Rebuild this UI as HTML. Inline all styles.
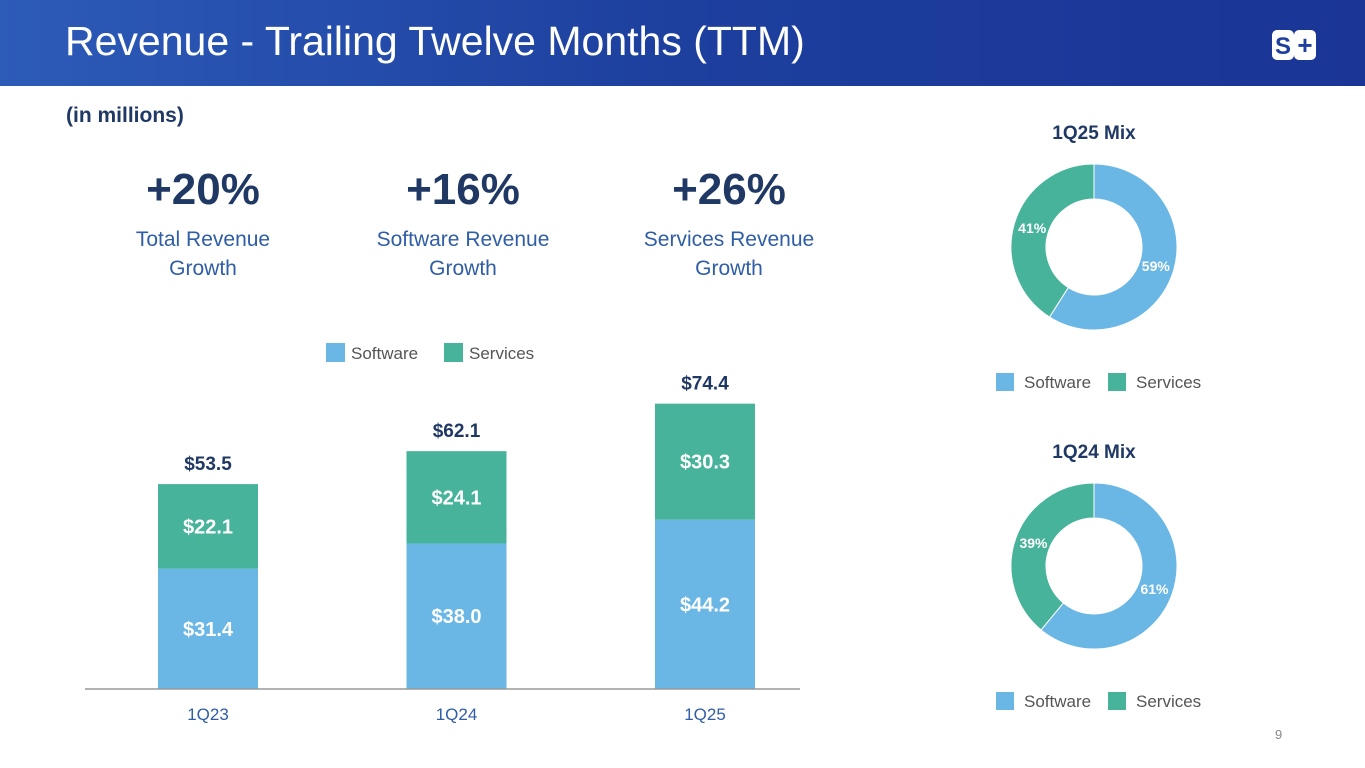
<!DOCTYPE html>
<html><head><meta charset="utf-8"><style>
body{margin:0;width:1365px;height:768px;overflow:hidden;background:#fff;font-family:"Liberation Sans",sans-serif;position:relative}
.abs{position:absolute}
#hdr{left:0;top:0;width:1365px;height:86px;background:linear-gradient(90deg,#2d5bb8,#1d3f9e 50%,#1a3596)}
#title{left:65px;top:18px;font-size:41px;color:#fff}
.kpi{width:260px;text-align:center;color:#1f3864}
.kpi b{display:block;font-size:44px}
.kpi span{display:block;font-size:21px;color:#2f5da6;line-height:29px;margin-top:10px}
</style></head><body>
<div id="hdr" class="abs"></div>
<div id="title" class="abs">Revenue - Trailing Twelve Months (TTM)</div>
<svg class="abs" style="left:1272px;top:26px" width="50" height="40">
<rect x="0" y="4" width="22" height="30" rx="5" fill="#fff"/><rect x="22" y="4" width="22" height="30" rx="5" fill="#fff"/>
<text x="11" y="28" font-size="24" font-weight="bold" fill="#1d3f9e" text-anchor="middle">S</text>
<text x="33" y="28" font-size="26" font-weight="bold" fill="#1d3f9e" text-anchor="middle">+</text></svg>
<div class="abs" style="left:66px;top:104px;font-size:21px;font-weight:bold;color:#1f3864">(in millions)</div>
<div class="abs kpi" style="left:73px;top:165px"><b>+20%</b><span>Total Revenue<br>Growth</span></div>
<div class="abs kpi" style="left:333px;top:165px"><b>+16%</b><span>Software Revenue<br>Growth</span></div>
<div class="abs kpi" style="left:599px;top:165px"><b>+26%</b><span>Services Revenue<br>Growth</span></div>
<div class="abs" style="left:1275px;top:727px;font-size:13px;color:#888">9</div>
<svg id="chart" class="abs" style="left:0;top:0" width="1365" height="768" font-family="Liberation Sans, sans-serif"></svg>
<script>
const categories=["1Q23","1Q24","1Q25"];
const software=[31.4,38.0,44.2];
const services=[22.1,24.1,30.3];
const totals=["$53.5","$62.1","$74.4"];
const mixTitles=["1Q25 Mix","1Q24 Mix"];
const mixSoftware=[59,61];
const mixServices=[41,39];
const SW="#6ab7e6",SV="#47b39a";
const svg=document.getElementById('chart');const NS="http://www.w3.org/2000/svg";
function el(t,a,txt){const e=document.createElementNS(NS,t);for(const k in a)e.setAttribute(k,a[k]);if(txt!=null)e.textContent=txt;svg.appendChild(e);return e;}
const base=689,k=3.83,x0=208,step=248.5,bw=100;
const y=v=>base-v*k, xc=i=>x0+i*step;
let e=el('rect',{x:326,y:343,width:19,height:19,fill:SW});
e=el('text',{x:351,y:359,'font-size':17,fill:'#555'},'Software');
e=el('rect',{x:444,y:343,width:19,height:19,fill:SV});
e=el('text',{x:469,y:359,'font-size':17,fill:'#555'},'Services');
categories.forEach((c,i)=>{
 const s=software[i],v=services[i],x=xc(i)-bw/2;
 let r=el('rect',{x:x,y:y(s),width:bw,height:s*k,fill:SW});
 r=el('rect',{x:x,y:y(s+v),width:bw,height:v*k,fill:SV});
 let t=el('text',{x:xc(i),y:y(s/2)+7,'font-size':20,'font-weight':'bold',fill:'#fff','text-anchor':'middle'},'$'+s.toFixed(1));
 t=el('text',{x:xc(i),y:y(s+v/2)+7,'font-size':20,'font-weight':'bold',fill:'#fff','text-anchor':'middle'},'$'+v.toFixed(1));
 t=el('text',{x:xc(i),y:y(s+v)-14,'font-size':19,'font-weight':'bold',fill:'#1f3864','text-anchor':'middle'},totals[i]);
 t=el('text',{x:xc(i),y:720,'font-size':17,fill:'#2f5da6','text-anchor':'middle'},c);
});
e=el('line',{x1:85,x2:800,y1:base,y2:base,stroke:'#999','stroke-width':1.5});
const R=83,r0=48,cx=1094,cys=[247,566];
function arc(cx,cy,a0,a1){const p=(a,rr)=>[cx+rr*Math.sin(a),cy-rr*Math.cos(a)];const L=(a1-a0)>Math.PI?1:0;
 const [x1,y1]=p(a0,R),[x2,y2]=p(a1,R),[x3,y3]=p(a1,r0),[x4,y4]=p(a0,r0);
 return `M${x1},${y1}A${R},${R} 0 ${L} 1 ${x2},${y2}L${x3},${y3}A${r0},${r0} 0 ${L} 0 ${x4},${y4}Z`;}
mixTitles.forEach((tt,i)=>{
 const cy=cys[i],sw=mixSoftware[i],sv=mixServices[i],a=sw/100*2*Math.PI;
 let t=el('text',{x:cx,y:cy-108,'font-size':19,'font-weight':'bold',fill:'#1f3864','text-anchor':'middle'},tt);
 let p=el('path',{d:arc(cx,cy,0,a),fill:SW,stroke:'#fff','stroke-width':1});
 p=el('path',{d:arc(cx,cy,a,2*Math.PI),fill:SV,stroke:'#fff','stroke-width':1});
 const rm=(R+r0)/2+2,m1=a/2,m2=a+(2*Math.PI-a)/2;
 t=el('text',{x:cx+rm*Math.sin(m1)-3,y:cy-rm*Math.cos(m1)+5,'font-size':14,'font-weight':'bold',fill:'#fff','text-anchor':'middle'},sw+'%');
 t=el('text',{x:cx+rm*Math.sin(m2)+3,y:cy-rm*Math.cos(m2)+5,'font-size':14,'font-weight':'bold',fill:'#fff','text-anchor':'middle'},sv+'%');
 const ly=cy+126;
 let q=el('rect',{x:996,y:ly,width:18,height:18,fill:SW});
 q=el('text',{x:1024,y:ly+15,'font-size':17,fill:'#555'},'Software');
 q=el('rect',{x:1108,y:ly,width:18,height:18,fill:SV});
 q=el('text',{x:1136,y:ly+15,'font-size':17,fill:'#555'},'Services');
});
</script>
</body></html>
